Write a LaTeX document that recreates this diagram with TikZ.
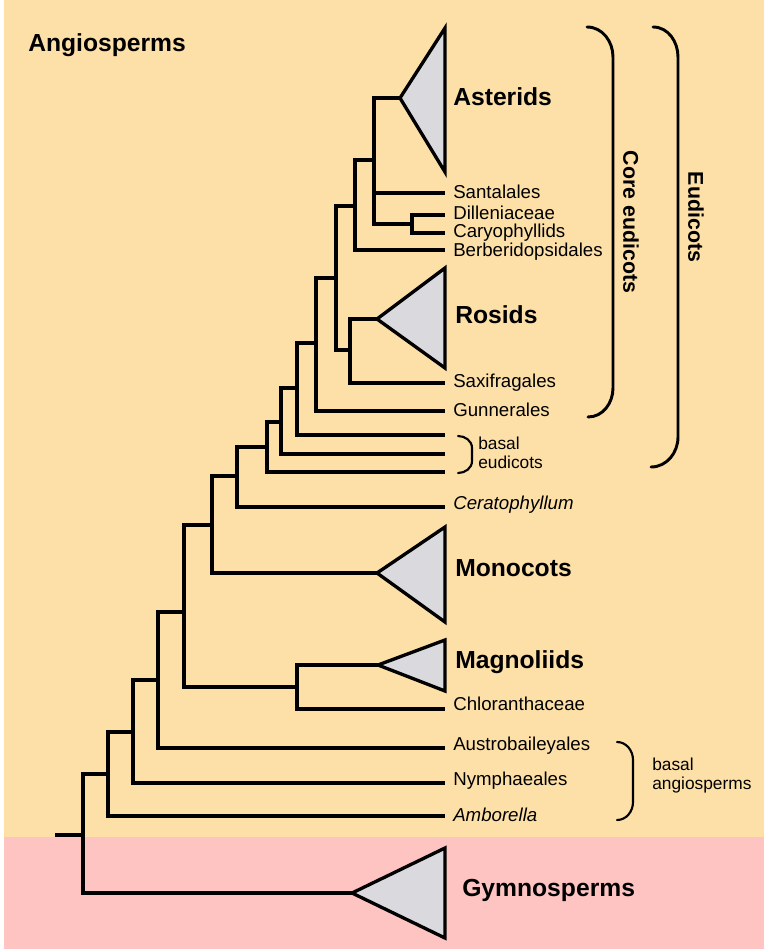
\documentclass[tikz,border=0pt]{standalone}
\usepackage{fontspec}
\setmainfont{Liberation Sans}
\usetikzlibrary{positioning,calc}
\definecolor{SandBG}{HTML}{FDE0A8}
\definecolor{PinkBG}{HTML}{FEC4C2}
\definecolor{CladeGray}{HTML}{D9D9DE}
\tikzset{
  BR/.style={line width=2.8pt,line join=miter},
  CL/.style={draw,line width=2.5pt,fill=CladeGray,line join=miter},
  BK/.style={line width=2.2pt,line cap=round},
  bk/.style={line width=1.6pt,line cap=round},
  TL/.style={anchor=west,inner sep=0pt,text height=10.1pt,text depth=0pt,
             font=\fontsize{14}{14}\selectfont},
  TI/.style={TL,font=\fontsize{14}{14}\selectfont\itshape},
  GL/.style={anchor=west,inner sep=0pt,text height=13.3pt,text depth=0pt,
             font=\fontsize{18.5}{18.5}\selectfont\bfseries},
  NL/.style={anchor=west,inner sep=0pt,align=left,text height=7.2pt,text depth=0pt,
             font=\fontsize{13}{14.25}\selectfont},
  VL/.style={rotate=-90,inner sep=0pt,text height=11.5pt,text depth=0pt,
             font=\fontsize{16}{16}\selectfont\bfseries}
}

\begin{document}
\begin{tikzpicture}[x=0.75pt,y=-0.75pt,node distance=6pt]
  \useasboundingbox (0,0) rectangle (764,949);
  \fill[white] (0,0) rectangle (764,949);
  \fill[SandBG] (4,0) rectangle (764,837);
  \fill[PinkBG] (4,837) rectangle (764,949);

  % tips
  \coordinate (ast) at (400,98);
  \coordinate (sant) at (445,193);
  \coordinate (dill) at (445,215);
  \coordinate (cary) at (445,233);
  \coordinate (berb) at (445,250);
  \coordinate (ros) at (377,319);
  \coordinate (sax) at (445,383);
  \coordinate (gunn) at (445,411);
  \coordinate (be1) at (445,435);
  \coordinate (be2) at (445,454);
  \coordinate (be3) at (445,472);
  \coordinate (cera) at (445,507);
  \coordinate (mono) at (377,573);
  \coordinate (mag) at (378,665);
  \coordinate (chlor) at (445,709);
  \coordinate (austro) at (445,748);
  \coordinate (nymph) at (445,783);
  \coordinate (ambo) at (445,816);
  \coordinate (gym) at (352,893);

  % inner nodes
  \coordinate (dc) at (412,224);
  \coordinate (nA) at (374,160);
  \coordinate (nB) at (355,206);
  \coordinate (nR) at (350,350);
  \coordinate (nC) at (336,278);
  \coordinate (nD) at (316,343);
  \coordinate (nE) at (297,388);
  \coordinate (nF) at (281,422);
  \coordinate (nG) at (267,447);
  \coordinate (nH) at (237,476);
  \coordinate (nI) at (212,525);
  \coordinate (nM) at (297,687);
  \coordinate (nJ) at (184,612);
  \coordinate (nK) at (158,680);
  \coordinate (nL) at (133,732);
  \coordinate (nN) at (108,774);
  \coordinate (root) at (83,835);
  \coordinate (stub) at (55,835);

  % clade triangles
  \draw[CL] (ast) -- (445,28) -- (445,172) -- cycle;
  \draw[CL] (ros) -- (445,268) -- (445,368) -- cycle;
  \draw[CL] (mono) -- (445,527) -- (445,622) -- cycle;
  \draw[CL] (mag) -- (445,640) -- (445,691) -- cycle;
  \draw[CL] (gym) -- (445,848) -- (445,938) -- cycle;

  % branches
  \draw[BR] (dc) |- (dill);  \draw[BR] (dc) |- (cary);
  \draw[BR] (nA) |- (ast);   \draw[BR] (nA) |- (sant);  \draw[BR] (nA) |- (dc);
  \draw[BR] (nB) |- (nA);    \draw[BR] (nB) |- (berb);
  \draw[BR] (nR) |- (ros);   \draw[BR] (nR) |- (sax);
  \draw[BR] (nC) |- (nB);    \draw[BR] (nC) |- (nR);
  \draw[BR] (nD) |- (nC);    \draw[BR] (nD) |- (gunn);
  \draw[BR] (nE) |- (nD);    \draw[BR] (nE) |- (be1);
  \draw[BR] (nF) |- (nE);    \draw[BR] (nF) |- (be2);
  \draw[BR] (nG) |- (nF);    \draw[BR] (nG) |- (be3);
  \draw[BR] (nH) |- (nG);    \draw[BR] (nH) |- (cera);
  \draw[BR] (nI) |- (nH);    \draw[BR] (nI) |- (mono);
  \draw[BR] (nM) |- (mag);   \draw[BR] (nM) |- (chlor);
  \draw[BR] (nJ) |- (nI);    \draw[BR] (nJ) |- (nM);
  \draw[BR] (nK) |- (nJ);    \draw[BR] (nK) |- (austro);
  \draw[BR] (nL) |- (nK);    \draw[BR] (nL) |- (nymph);
  \draw[BR] (nN) |- (nL);    \draw[BR] (nN) |- (ambo);
  \draw[BR] (root) |- (nN);  \draw[BR] (root) |- (gym);
  \draw[BR] (stub) -- (root);

  % tip labels
  \node[TL,right=of sant,yshift=0.8pt] (lsant) {Santalales};
  \node[TL,right=of dill,yshift=1.5pt] (ldill) {Dilleniaceae};
  \node[TL,right=of cary,yshift=1.5pt] (lcary) {Caryophyllids};
  \node[TL,right=of berb,yshift=0pt] (lberb) {Berberidopsidales};
  \node[TL,right=of sax,yshift=1.5pt] (lsax) {Saxifragales};
  \node[TL,right=of gunn,yshift=0.8pt] (lgunn) {Gunnerales};
  \node[TI,right=of cera,yshift=3pt] (lcera) {Ceratophyllum};
  \node[TL,right=of chlor,yshift=4pt] (lchlor) {Chloranthaceae};
  \node[TL,right=of austro,yshift=3pt] (laustro) {Austrobaileyales};
  \node[TL,right=of nymph,yshift=3pt] (lnymph) {Nymphaeales};
  \node[TI,right=of ambo,yshift=0.8pt] (lambo) {Amborella};

  % group labels
  \node[GL] (lang) at (28,43) {Angiosperms};
  \node[GL] (last) at (453,97) {Asterids};
  \node[GL] (lros) at (455,315) {Rosids};
  \node[GL] (lmono) at (455,568) {Monocots};
  \node[GL] (lmag) at (455,660) {Magnoliids};
  \node[GL] (lgym) at (462,888) {Gymnosperms};

  % brackets
  \draw[BK] (587,27) to[out=0,in=90] (613,57) -- (613,388) to[out=-90,in=0] (588,417);
  \draw[BK] (653,27) to[out=0,in=90] (678,57) -- (678,437) to[out=-90,in=0] (651,467);
  \draw[bk] (458,436) to[out=0,in=90] (472,448) -- (472,461) to[out=-90,in=0] (458,473);
  \draw[bk] (617,742) to[out=0,in=90] (633,760) -- (633,802) to[out=-90,in=0] (617,820);
  \node[VL] (lcore) at (631,222) {Core eudicots};
  \node[VL] (leud) at (696,217) {Eudicots};
  \node[NL] (lbeud) at (478,463.5) {basal\\eudicots};
  \node[NL] (lbang) at (652,784.5) {basal\\angiosperms};
\end{tikzpicture}
\end{document}
